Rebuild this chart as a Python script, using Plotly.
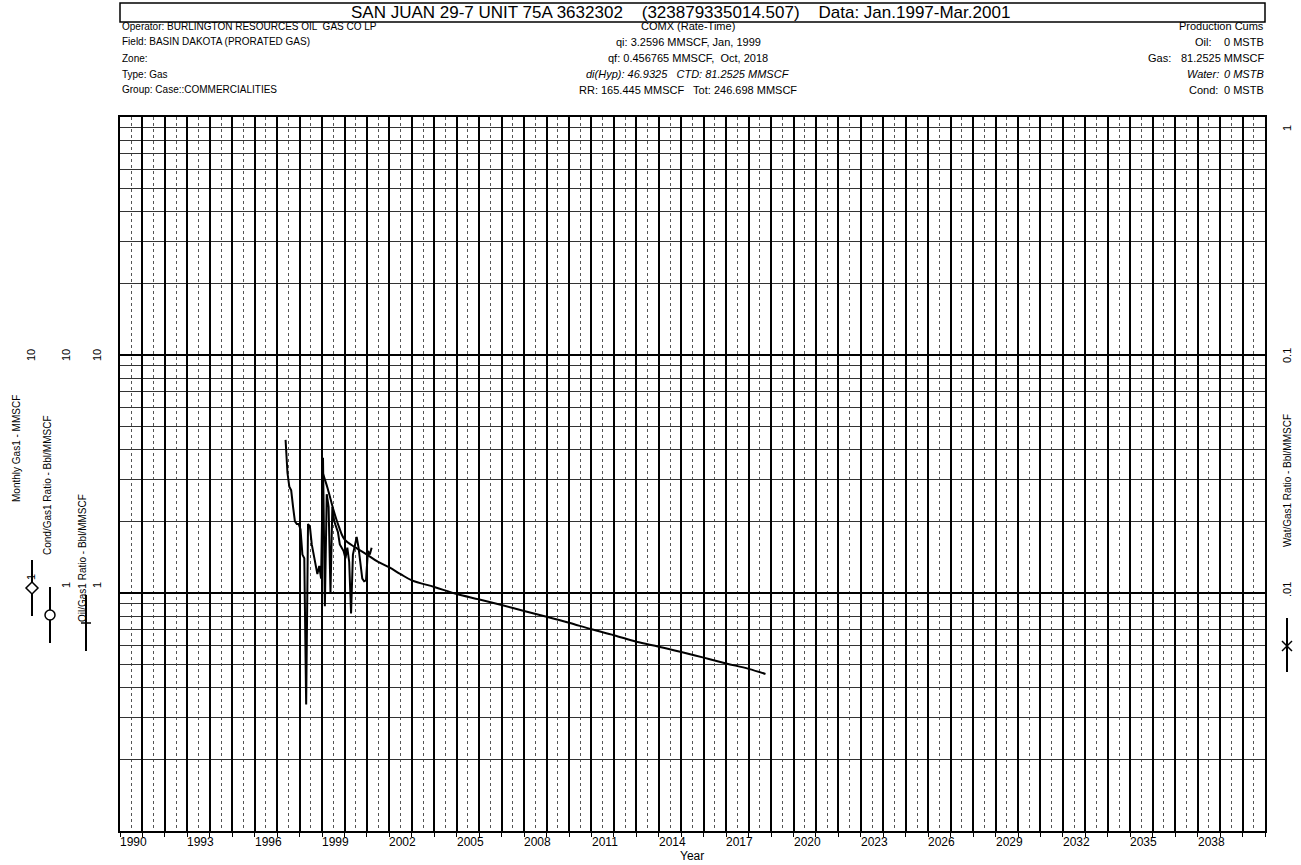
import pandas as pd
import plotly.graph_objects as go

# ---------------- data ----------------
gas_months = pd.period_range("1997-05", "2001-03", freq="M")
gas_values = [4.4, 3.2, 2.8, 2.7, 2.3, 2.0, 1.95, 1.95, 1.85, 1.45, 1.40, 0.34,
              1.95, 1.9, 1.6, 1.45, 1.33, 1.2, 1.3, 1.15, 3.7, 0.88, 2.6, 2.3,
              1.0, 2.3, 2.0, 1.9, 1.8, 1.6, 1.55, 1.5, 1.4, 1.55, 1.35, 0.82,
              1.45, 1.6, 1.72, 1.55, 1.3, 1.15, 1.12, 1.13, 1.5, 1.45, 1.55]

forecast_years = [1999.0, 1999.25, 1999.5, 1999.75, 2000.0, 2000.5, 2001.0, 2001.5,
                  2002.0, 2002.5, 2003, 2004, 2005, 2006, 2007, 2008, 2009, 2010,
                  2011, 2012, 2013, 2014, 2015, 2016, 2017, 2018, 2018.75]
forecast_values = [3.26, 2.75, 2.25, 1.9, 1.68, 1.55, 1.45, 1.35,
                   1.28, 1.20, 1.13, 1.06, 0.99, 0.94, 0.89, 0.84, 0.795, 0.75,
                   0.704, 0.665, 0.624, 0.595, 0.565, 0.535, 0.506, 0.48, 0.457]

year_labels = list(range(1990, 2039, 3))
x_range = [1990, 2041]
y_range_log = [-1, 2]

title_text = "SAN JUAN 29-7 UNIT 75A 3632302    (323879335014.507)    Data: Jan.1997-Mar.2001"
left_header = ["Operator: BURLINGTON RESOURCES OIL  GAS CO LP",
               "Field: BASIN DAKOTA (PRORATED GAS)",
               "Zone:",
               "Type: Gas",
               "Group: Case::COMMERCIALITIES"]
center_header = ["COMX (Rate-Time)",
                 "qi: 3.2596 MMSCF, Jan, 1999",
                 "qf: 0.456765 MMSCF,  Oct, 2018",
                 "<i>di(Hyp): 46.9325   CTD: 81.2525 MMSCF</i>",
                 "RR: 165.445 MMSCF   Tot: 246.698 MMSCF"]
cums_labels = ["Oil:", "Gas:", "<i>Water:</i>", "Cond:"]
cums_values = ["0 MSTB", "81.2525 MMSCF", "<i>0 MSTB</i>", "0 MSTB"]

# ---------------- layout helpers (screen pixels) ----------------
W, H = 1301, 865
L, R, T, B = 120, 1265, 117, 831
FONT = "Liberation Sans, Arial"


def px(x):
    return (x - L) / (R - L)


def py(y):
    return (B - y) / (B - T)


gas_x = [p.year + (p.month - 0.5) / 12 for p in gas_months]

fig = go.Figure()
fig.add_trace(go.Scatter(x=forecast_years, y=forecast_values, mode="lines",
                         line=dict(color="black", width=2, shape="spline"),
                         showlegend=False, hoverinfo="skip"))
fig.add_trace(go.Scatter(x=gas_x, y=gas_values, mode="lines",
                         line=dict(color="black", width=2),
                         showlegend=False))

major_y = [0.1, 1, 10, 100]
minor_y = [k * 10 ** e for e in (-1, 0, 1) for k in range(2, 10)]

fig.update_layout(
    width=W, height=H,
    margin=dict(l=L, r=W - R, t=T, b=H - B, pad=0),
    paper_bgcolor="white", plot_bgcolor="white",
    font=dict(family=FONT, color="black", size=11),
    xaxis=dict(range=x_range, tickvals=list(range(1990, 2042)),
               showticklabels=False, ticks="outside", ticklen=4,
               tickcolor="black", showgrid=True, gridcolor="black",
               gridwidth=2, showline=True, linecolor="black", linewidth=2,
               mirror=True, zeroline=False,
               minor=dict(tickvals=[y + 0.5 for y in range(1990, 2041)],
                          showgrid=True, gridcolor="#555555", griddash="dot",
                          gridwidth=1, ticks="")),
    yaxis=dict(type="log", range=y_range_log, tickvals=major_y,
               showticklabels=False, ticks="", showgrid=True,
               gridcolor="black", gridwidth=2, showline=True,
               linecolor="black", linewidth=2, mirror=True, zeroline=False,
               minor=dict(tickvals=minor_y, showgrid=True,
                          gridcolor="#333333", gridwidth=1, ticks="")),
)

ann = []
shapes = []

# title box
shapes.append(dict(type="rect", xref="paper", yref="paper",
                   x0=px(120), x1=px(1265), y0=py(22), y1=py(3),
                   line=dict(color="black", width=1.5), fillcolor="white"))
ann.append(dict(text=title_text, xref="paper", yref="paper", x=px(680), y=py(12.5),
                xanchor="center", yanchor="middle", showarrow=False,
                font=dict(size=17)))

for i, t in enumerate(left_header):
    ann.append(dict(text=t, xref="paper", yref="paper", x=px(120), y=py(26 + 16 * i),
                    xanchor="left", yanchor="middle", showarrow=False,
                    font=dict(size=10)))
for i, t in enumerate(center_header):
    ann.append(dict(text=t, xref="paper", yref="paper", x=px(688), y=py(26 + 16 * i),
                    xanchor="center", yanchor="middle", showarrow=False,
                    font=dict(size=11)))
ann.append(dict(text="Production Cums", xref="paper", yref="paper", x=px(1266),
                y=py(26), xanchor="right", yanchor="middle", showarrow=False,
                font=dict(size=11)))
label_right = [1214, 1173, 1221, 1220]
for i, (lab, val) in enumerate(zip(cums_labels, cums_values)):
    ann.append(dict(text=lab, xref="paper", yref="paper", x=px(label_right[i]),
                    y=py(42 + 16 * i), xanchor="right", yanchor="middle",
                    showarrow=False, font=dict(size=11)))
    ann.append(dict(text=val, xref="paper", yref="paper", x=px(1266),
                    y=py(42 + 16 * i), xanchor="right", yanchor="middle",
                    showarrow=False, font=dict(size=11)))

# x tick labels (centered in year interval)
for yr in year_labels:
    ann.append(dict(text=str(yr), x=yr + 0.6, xref="x", yref="paper", y=py(842),
                    xanchor="center", yanchor="middle", showarrow=False,
                    font=dict(size=12)))
ann.append(dict(text="Year", xref="paper", yref="paper", x=px(692), y=py(856),
                xanchor="center", yanchor="middle", showarrow=False,
                font=dict(size=12)))

# left axis titles and labels
left_cols = [
    (16, "Monthly Gas1 - MMSCF", 448, 31, 577, "diamond", 32, 588),
    (48, "Cond/Gas1 Ratio - Bbl/MMSCF", 485, 66, 585, "circle", 50, 615),
    (82, "Oil/Gas1 Ratio - Bbl/MMSCF", 558, 97, 585, "plus", 86, 623),
]
for (xc, txt, yc, xt, y1, sym, sx, sy) in left_cols:
    ann.append(dict(text=txt, xref="paper", yref="paper", x=px(xc), y=py(yc),
                    xanchor="center", yanchor="middle", textangle=-90,
                    showarrow=False, font=dict(size=10)))
    ann.append(dict(text="10", xref="paper", yref="paper", x=px(xt), y=py(355),
                    xanchor="center", yanchor="middle", textangle=-90,
                    showarrow=False, font=dict(size=11)))
    ann.append(dict(text="1", xref="paper", yref="paper", x=px(xt), y=py(y1),
                    xanchor="center", yanchor="middle", textangle=-90,
                    showarrow=False, font=dict(size=11)))
    # legend symbol: vertical line with marker
    shapes.append(dict(type="line", xref="paper", yref="paper",
                       x0=px(sx), x1=px(sx), y0=py(sy - 28), y1=py(sy + 28),
                       line=dict(color="black", width=2)))
    if sym == "diamond":
        d = 6
        path = (f"M {px(sx)},{py(sy - d)} L {px(sx + d)},{py(sy)} "
                f"L {px(sx)},{py(sy + d)} L {px(sx - d)},{py(sy)} Z")
        shapes.append(dict(type="path", xref="paper", yref="paper", path=path,
                           line=dict(color="black", width=1.5), fillcolor="white"))
    elif sym == "circle":
        d = 5
        shapes.append(dict(type="circle", xref="paper", yref="paper",
                           x0=px(sx - d), x1=px(sx + d), y0=py(sy + d), y1=py(sy - d),
                           line=dict(color="black", width=1.5), fillcolor="white"))
    else:
        d = 5
        shapes.append(dict(type="line", xref="paper", yref="paper",
                           x0=px(sx - d), x1=px(sx + d), y0=py(sy), y1=py(sy),
                           line=dict(color="black", width=1.5)))

# right axis
ann.append(dict(text="Wat/Gas1 Ratio - Bbl/MMSCF", xref="paper", yref="paper",
                x=px(1287), y=py(481), xanchor="center", yanchor="middle",
                textangle=-90, showarrow=False, font=dict(size=10)))
for txt, yy in [("1", 128), ("0.1", 356), (".01", 590)]:
    ann.append(dict(text=txt, xref="paper", yref="paper", x=px(1287), y=py(yy),
                    xanchor="center", yanchor="middle", textangle=-90,
                    showarrow=False, font=dict(size=11)))
shapes.append(dict(type="line", xref="paper", yref="paper",
                   x0=px(1287), x1=px(1287), y0=py(618), y1=py(672),
                   line=dict(color="black", width=2)))
for dx in (-5, 5):
    shapes.append(dict(type="line", xref="paper", yref="paper",
                       x0=px(1287 - 5), x1=px(1287 + 5),
                       y0=py(646 - dx), y1=py(646 + dx),
                       line=dict(color="black", width=1.5)))

fig.update_layout(annotations=ann, shapes=shapes)
fig.write_html("out.html",
               config={"displayModeBar": False},
               post_script="document.body.style.margin='0px';"
                           "document.body.style.overflow='hidden';")
